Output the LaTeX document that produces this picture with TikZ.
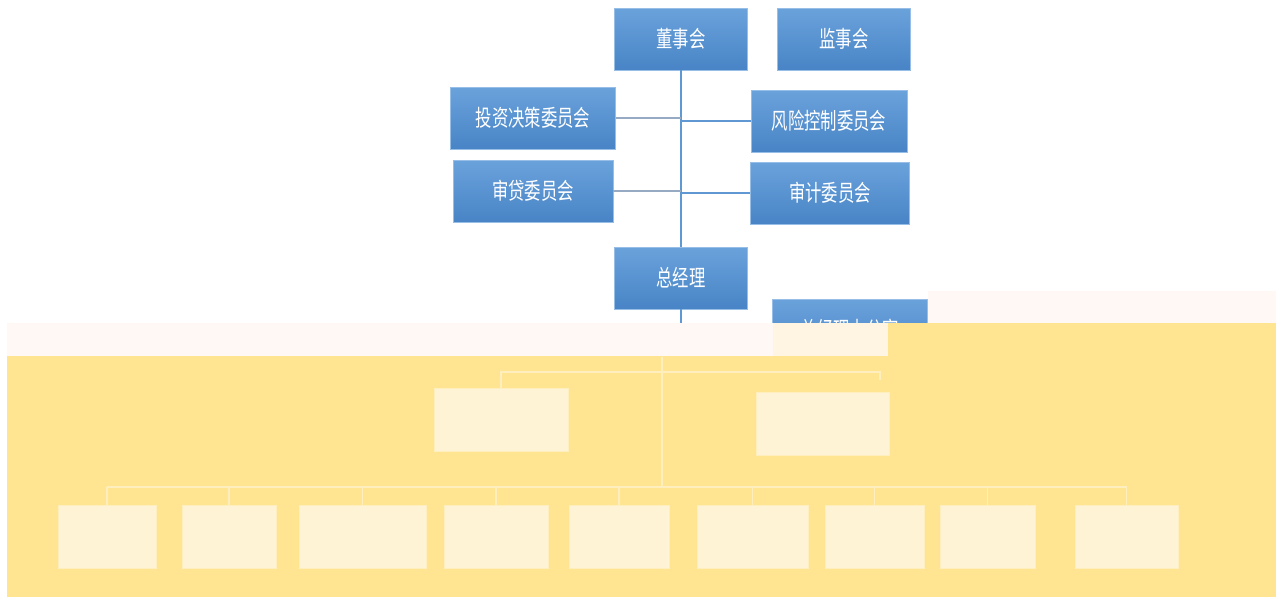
\documentclass[tikz,border=0pt]{standalone}
\usepackage{fontspec}
\newfontfamily\cjk{Noto Sans CJK SC}
\usepackage{tikz}
\usetikzlibrary{positioning}

\definecolor{boxtop}{RGB}{106,162,219}
\definecolor{boxbot}{RGB}{72,132,198}
\definecolor{boxline}{RGB}{150,190,230}
\definecolor{trunkblue}{RGB}{96,152,212}
\definecolor{stubgray}{RGB}{150,170,195}
\definecolor{bandpink}{RGB}{255,248,244}
\definecolor{bandyellow}{RGB}{255,229,145}
\definecolor{ghostfill}{RGB}{255,243,214}
\definecolor{ghostline}{RGB}{255,238,190}

\newcommand{\talltext}[1]{\scalebox{1}[1.4]{#1}}

\tikzset{
  orgbox/.style={draw=boxline, top color=boxtop, bottom color=boxbot,
    text=white, font=\cjk\fontsize{9.3pt}{11pt}\selectfont,
    minimum width=2.66cm, minimum height=1.24cm, inner sep=0pt},
  widebox/.style={orgbox, minimum width=3.2cm},
  trunk/.style={draw=trunkblue, line width=1.1pt},
  stub/.style={draw=stubgray, line width=1.1pt},
  ghostbox/.style={fill=ghostfill, draw=ghostline, inner sep=0pt, minimum height=1.26cm},
  ghostwire/.style={draw=ghostline, line width=0.8pt}
}

\begin{document}
\begin{tikzpicture}[x=0.2mm, y=-0.2mm]
    \useasboundingbox (0,0) rectangle (1285,599);

    \node[orgbox] (dsh) at (681,39) {\talltext{董事会}};
    \node[orgbox] (jsh) at (844,39) {\talltext{监事会}};
    \node[widebox, minimum width=3.3cm] (tzjc) at (533,118) {\talltext{投资决策委员会}};
    \node[widebox, minimum width=3.12cm] (fxkz) at (829,121) {\talltext{风险控制委员会}};
    \node[widebox] (sdwy) at (533,191) {\talltext{审贷委员会}};
    \node[widebox, minimum width=3.18cm] (sjwy) at (830,193) {\talltext{审计委员会}};
    \node[orgbox] (zjl) at (681,278) {\talltext{总经理}};
    \node[widebox, minimum width=3.1cm] (zjlb) at (850,330) {\talltext{总经理办公室}};
    \coordinate (zjlend) at (681,330);

    \draw[trunk] (dsh.south) -- (zjl.north);
    \draw[trunk] (zjl.south) -- (zjlend);
    \draw[stub] (tzjc.east) -- (tzjc.east -| dsh.south);
    \draw[trunk] (fxkz.west) -- (fxkz.west -| dsh.south);
    \draw[stub] (sdwy.east) -- (sdwy.east -| dsh.south);
    \draw[trunk] (sjwy.west) -- (sjwy.west -| dsh.south);

    % damaged lower part
    \fill[bandpink] (7,323) rectangle (888,356);
    \fill[bandpink] (928,291) rectangle (1276,323);
    \fill[bandyellow] (888,323) rectangle (1276,356);
    \fill[bandyellow] (7,356) rectangle (1276,597);
    \fill[ghostfill, opacity=0.6] (773,323) rectangle (888,356);

    \node[ghostbox, minimum width=2.68cm] (mid1) at (501,420) {};
    \node[ghostbox, minimum width=2.66cm] (mid2) at (823,424) {};
    \coordinate (gtop) at (662,357);
    \coordinate (gbus) at (662,487);
    \draw[ghostwire] (gtop) -- (gbus);
    \draw[ghostwire] (mid1.north) -- ++(0,-16) -| (880,380);

    \foreach \name/\xa/\xb in {b1/58/156, b2/182/276, b3/299/426, b4/444/548, b5/569/669,
                               b6/697/808, b7/825/924, b8/940/1035, b9/1075/1178} {
      \node[ghostbox, minimum width={(\xb-\xa)*0.02cm}] (\name) at ({(\xa+\xb)/2},537) {};
      \draw[ghostwire] (\name.north) -- (\name.north |- gbus);
    }
    \draw[ghostwire] (b1.north |- gbus) -- (b9.north |- gbus);
  \end{tikzpicture}
\end{document}
